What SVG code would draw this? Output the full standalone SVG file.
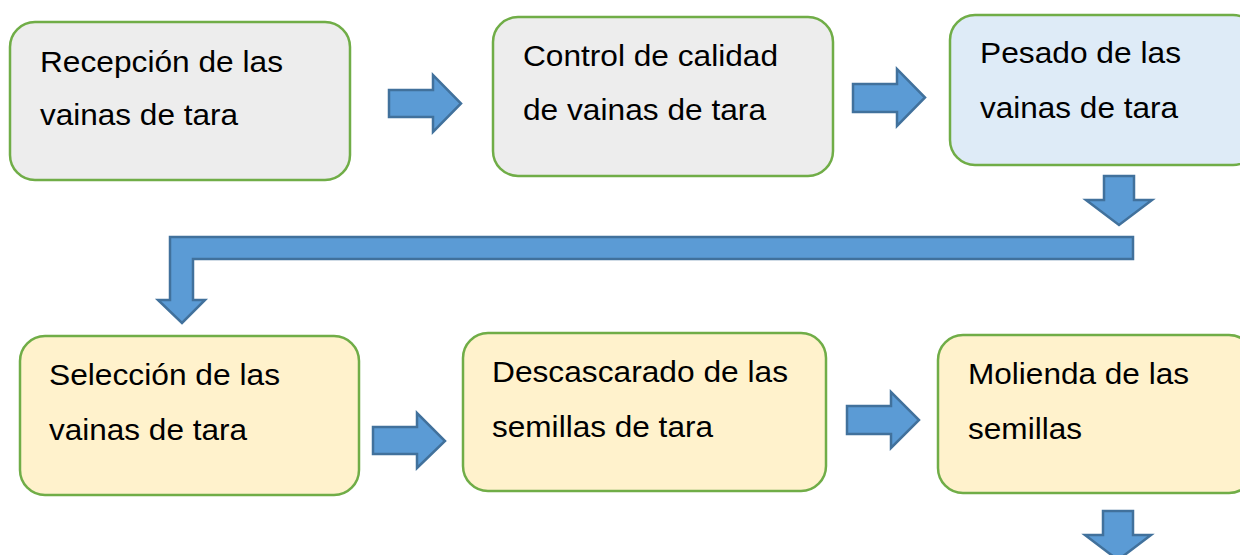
<svg xmlns="http://www.w3.org/2000/svg" width="1240" height="555" viewBox="0 0 1240 555">
<style>
.box{stroke:#70ad47;stroke-width:2.5}
.gray{fill:#ededed}
.blue{fill:#deebf7}
.yel{fill:#fff2cc}
.arr{fill:#5b9bd5;stroke:#41719c;stroke-width:2.5;stroke-linejoin:miter}
text{font-family:"Liberation Sans",Arial,sans-serif;font-size:30px;fill:#000}
</style>
<rect width="1240" height="555" fill="#fff"/>
<g id="n1"><rect class="box gray" x="10" y="22" width="340" height="158" rx="25"/>
<text x="40" y="72" textLength="243" lengthAdjust="spacingAndGlyphs">Recepción de las</text>
<text x="40" y="125" textLength="198" lengthAdjust="spacingAndGlyphs">vainas de tara</text></g>
<g id="n2"><rect class="box gray" x="493" y="17" width="340" height="159" rx="25"/>
<text x="523" y="66" textLength="255" lengthAdjust="spacingAndGlyphs">Control de calidad</text>
<text x="523" y="120" textLength="243" lengthAdjust="spacingAndGlyphs">de vainas de tara</text></g>
<g id="n3"><rect class="box blue" x="950" y="15" width="308" height="150" rx="25"/>
<text x="980" y="63" textLength="201" lengthAdjust="spacingAndGlyphs">Pesado de las</text>
<text x="980" y="118" textLength="198" lengthAdjust="spacingAndGlyphs">vainas de tara</text></g>
<g id="n4"><rect class="box yel" x="20" y="336" width="339" height="159" rx="25"/>
<text x="49" y="385" textLength="231" lengthAdjust="spacingAndGlyphs">Selección de las</text>
<text x="49" y="440" textLength="198" lengthAdjust="spacingAndGlyphs">vainas de tara</text></g>
<g id="n5"><rect class="box yel" x="463" y="333" width="363" height="158" rx="25"/>
<text x="492" y="382" textLength="296" lengthAdjust="spacingAndGlyphs">Descascarado de las</text>
<text x="492" y="437" textLength="221" lengthAdjust="spacingAndGlyphs">semillas de tara</text></g>
<g id="n6"><rect class="box yel" x="938" y="335" width="316" height="158" rx="25"/>
<text x="968" y="384" textLength="221" lengthAdjust="spacingAndGlyphs">Molienda de las</text>
<text x="968" y="439" textLength="114" lengthAdjust="spacingAndGlyphs">semillas</text></g>
<g id="connectors">
<polygon class="arr" points="389,90 433,90 433,75 461,103.5 433,132 433,117 389,117"/>
<polygon class="arr" points="853,84 897,84 897,69 925,97.5 897,126 897,112 853,112"/>
<polygon class="arr" points="1104,176 1134,176 1134,200 1152,200 1119,225 1086,200 1104,200"/>
<polygon class="arr" points="1133,237 170,237 170,300 158,300 182,323 205,300 193,300 193,259 1133,259"/>
<polygon class="arr" points="373,427 417,427 417,413 445,441 417,468 417,454 373,454"/>
<polygon class="arr" points="847,406 891,406 891,392 919,420 891,448 891,434 847,434"/>
<polygon class="arr" points="1103,511 1133,511 1133,535 1151,535 1118,560 1085,535 1103,535"/>
</g>
</svg>
